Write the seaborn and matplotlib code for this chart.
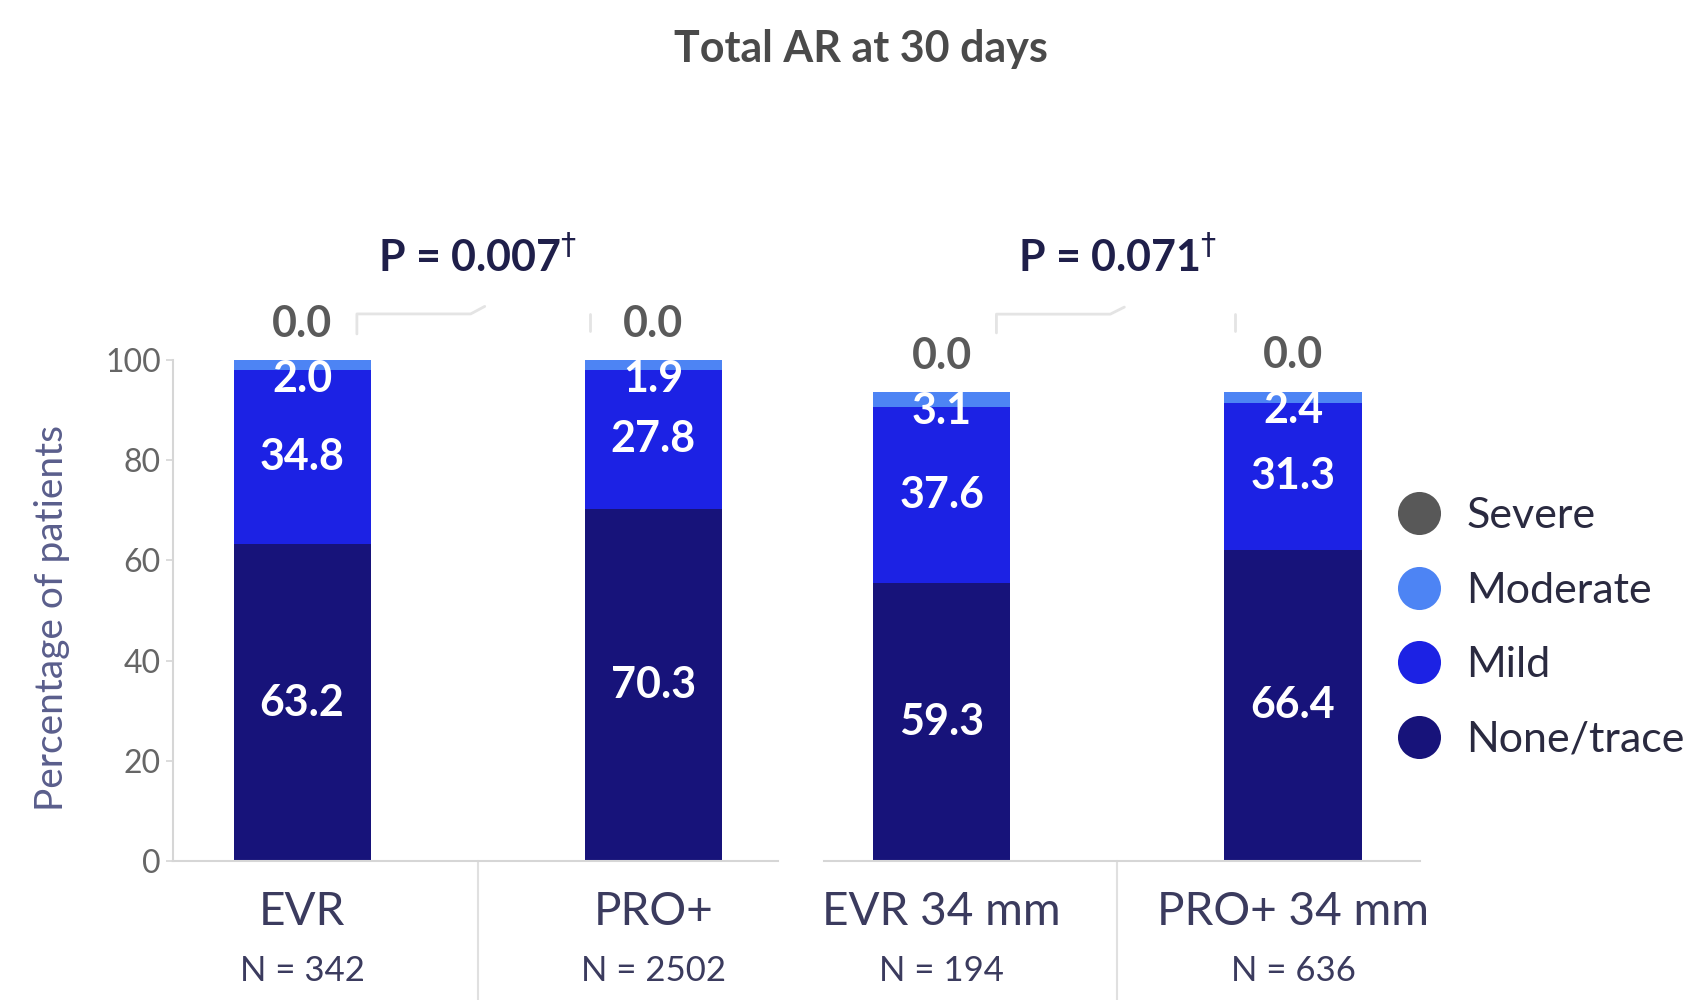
import numpy as np
import pandas as pd
import matplotlib
matplotlib.use("Agg")
import matplotlib.pyplot as plt
import matplotlib.transforms as mtransforms
import seaborn as sns
from matplotlib.lines import Line2D

# chart values
devices_all = ["EVR", "PRO+"]
devices_34 = ["EVR 34 mm", "PRO+ 34 mm"]
n_all = [342, 2502]
n_34 = [194, 636]
grades = ["None/trace", "Mild", "Moderate", "Severe"]
none_trace = [63.2, 70.3, 59.3, 66.4]
mild = [34.8, 27.8, 37.6, 31.3]
moderate = [2.0, 1.9, 3.1, 2.4]
severe = [0.0, 0.0, 0.0, 0.0]
p_values = ["0.007", "0.071"]

colors = {"None/trace": "#17137a", "Mild": "#1c22e4",
          "Moderate": "#4d84f4", "Severe": "#585858"}

# long table
devices = devices_all + devices_34
rows = []
for i, dev in enumerate(devices):
    vals = [none_trace[i], mild[i], moderate[i], severe[i]]
    cum = np.cumsum(vals)
    for g, v, c in zip(grades, vals, cum):
        rows.append({"device": dev, "panel": "all" if i < 2 else "34",
                     "grade": g, "pct": v, "cum": c, "bottom": c - v})
df = pd.DataFrame(rows)

sns.set_style("white")
plt.rcParams["font.family"] = ["Lato", "DejaVu Sans"]

fig = plt.figure(figsize=(16.98, 10), dpi=100)
ax1 = fig.add_axes([0.102, 0.139, 0.356, 0.501])
ax2 = fig.add_axes([0.485, 0.139, 0.351, 0.469])

panels = [(ax1, devices_all, n_all, p_values[0], (-0.367, 1.354)),
          (ax2, devices_34, n_34, p_values[1], (-0.336, 1.36))]

for ax, order, ns, pval, xlim in panels:
    sub = df[df["device"].isin(order)]
    # stacked bars: draw cumulative totals from top grade down
    for g in reversed(grades):
        sns.barplot(data=sub[sub["grade"] == g], x="device", y="cum", order=order,
                    color=colors[g], saturation=1, width=0.39, errorbar=None,
                    linewidth=0, ax=ax)
    ax.set_xlim(*xlim)
    ax.set_ylim(0, 100)
    ax.set_xlabel("")
    ax.set_ylabel("")
    ax.set_xticks([])
    for s in ["top", "right"]:
        ax.spines[s].set_visible(False)
    ax.spines["bottom"].set_color("#d6d6d6")
    ax.spines["bottom"].set_linewidth(1.5)

    # segment labels
    for i, dev in enumerate(order):
        d = sub[sub["device"] == dev].set_index("grade")
        for g in ["None/trace", "Mild"]:
            mid = d.loc[g, "bottom"] + d.loc[g, "pct"] / 2
            ax.text(i, mid, f"{d.loc[g, 'pct']:.1f}", ha="center", va="center",
                    color="white", fontsize=31, fontweight="bold")
        ax.annotate(f"{d.loc['Moderate', 'pct']:.1f}", xy=(i, d.loc["Moderate", "cum"]),
                    xytext=(0, 1), textcoords="offset points", ha="center", va="top",
                    color="white", fontsize=31, fontweight="bold")
        ax.annotate(f"{d.loc['Severe', 'pct']:.1f}", xy=(i, d.loc["Severe", "cum"]),
                    xytext=(0, 26), textcoords="offset points", ha="center", va="center",
                    color="#5a5a5a", fontsize=31, fontweight="bold")
        ax.annotate(dev, xy=(i, 0), xytext=(0, -37), textcoords="offset points",
                    ha="center", va="center", color="#3b3b5e", fontsize=33,
                    annotation_clip=False)
        ax.annotate(f"N = {ns[i]}", xy=(i, 0), xytext=(0, -79), textcoords="offset points",
                    ha="center", va="center", color="#3b3b5e", fontsize=25,
                    annotation_clip=False)

    # divider below axis
    bottom_frac = 139 / (ax.get_position().height * 1000)
    ax.axvline(0.5, ymin=-bottom_frac, ymax=0, color="#e0e0e0", lw=1.5, clip_on=False)

    # p value, same height for both panels
    tr = mtransforms.blended_transform_factory(ax.transData, fig.transFigure)
    ax.text(0.5, 0.743, f"P = {pval}" + r"$^{\dagger}$", transform=tr,
            ha="center", va="center", color="#1f1f4a", fontsize=31, fontweight="bold")

ax1.set_yticks(range(0, 101, 20))
ax1.tick_params(axis="y", labelsize=23, labelcolor="#666666", color="#d6d6d6",
                length=5, width=1.2, left=True, pad=4)
ax1.spines["left"].set_color("#d6d6d6")
ax1.spines["left"].set_linewidth(1.5)
ax1.set_ylabel("Percentage of patients", fontsize=28, color="#5a5e8c")
ax1.yaxis.set_label_coords(-0.17, 0.485)
ax2.set_yticks([])
ax2.spines["left"].set_visible(False)

# faint partial brackets under the p values
for ax, (x0, x1), ytop in [(ax1, (0.156, 0.819), 109.2), (ax2, (0.156, 0.836), 116.6)]:
    ax.plot([x0, x0, 0.48, 0.52], [ytop - 4, ytop, ytop, ytop + 1.5],
            color="#e4e4e4", lw=2, clip_on=False)
    ax.plot([x1, x1], [ytop, ytop - 3.5], color="#e4e4e4", lw=2, clip_on=False)

fig.text(0.507, 0.951, "Total AR at 30 days", ha="center", va="center",
         fontsize=31, fontweight="bold", color="#4a4a4a")

handles = [Line2D([], [], marker="o", linestyle="", markersize=31,
                  markerfacecolor=colors[g], markeredgewidth=0)
           for g in ["Severe", "Moderate", "Mild", "None/trace"]]
fig.legend(handles, ["Severe", "Moderate", "Mild", "None/trace"], loc="center left",
           bbox_to_anchor=(0.823, 0.372), frameon=False, fontsize=31,
           labelcolor="#2a2a40", handlelength=1.0, handletextpad=0.6,
           labelspacing=0.85, borderaxespad=0, borderpad=0)

fig.savefig("out.png", dpi=100)
